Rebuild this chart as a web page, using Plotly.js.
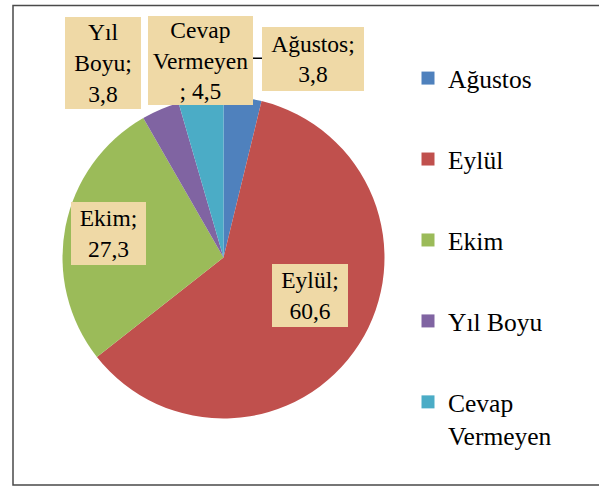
<!DOCTYPE html>
<html>
<head>
<meta charset="utf-8">
<script src="https://cdn.plot.ly/plotly-3.0.1.min.js"></script>
<style>html,body{margin:0;padding:0;background:#fff;}#chart{width:599px;height:486px;}</style>
</head>
<body>
<div id="chart"></div>
<script>
// ---- data ----
var categories = ["Ağustos", "Eylül", "Ekim", "Yıl Boyu", "Cevap Vermeyen"];
var values = [3.8, 60.6, 27.3, 3.8, 4.5];
var legendNames = ["Ağustos", "Eylül", "Ekim", "Yıl Boyu", "Cevap<br>Vermeyen"];
var labelPrefixes = ["Ağustos;<br>", "Eylül;<br>", "Ekim;<br>", "Yıl<br>Boyu;<br>", "Cevap<br>Vermeyen<br>; "];
var colors = ["#4F81BD", "#C0504D", "#9BBB59", "#8064A2", "#4BACC6"];

// ---- layout helpers (pixel -> paper) ----
var W = 599, H = 486;
function px(x) { return x / W; }
function py(y) { return 1 - y / H; }

var traces = [{
  type: "pie",
  labels: categories,
  values: values,
  sort: false,
  direction: "clockwise",
  rotation: 0,
  textinfo: "none",
  hoverinfo: "label+value",
  showlegend: false,
  marker: { colors: colors, line: { width: 0 } },
  domain: { x: [px(223.5 - 161), px(223.5 + 161)], y: [py(257.5 + 161), py(257.5 - 161)] }
}];

// legend entries (one per category)
categories.forEach(function (c, i) {
  traces.push({
    type: "scatter",
    mode: "markers",
    x: [null], y: [null],
    name: legendNames[i],
    legendgroup: c,
    hoverinfo: "skip",
    marker: { symbol: "square", size: 13, color: colors[i], line: { width: 0 } }
  });
});

// label boxes: centre (px), size (px)
var boxes = [
  { cx: 313, cy: 59, w: 102, h: 64 },
  { cx: 310, cy: 295.5, w: 76, h: 63 },
  { cx: 108.5, cy: 233.5, w: 75, h: 63 },
  { cx: 103, cy: 63, w: 76, h: 92 },
  { cx: 200.5, cy: 60.5, w: 105, h: 89 }
];

var annotations = [];
categories.forEach(function (c, i) {
  var b = boxes[i];
  var txt = labelPrefixes[i] + values[i].toFixed(1).replace(".", ",");
  var a = {
    xref: "paper", yref: "paper",
    text: txt,
    font: { family: "Liberation Serif", size: 23.5, color: "#000" },
    bgcolor: "#EFD9A6",
    borderpad: 0, borderwidth: 0,
    width: b.w, height: b.h,
    align: "center", valign: "middle",
    xanchor: "center", yanchor: "middle"
  };
  if (i === 0) {
    a.showarrow = true;
    a.arrowhead = 0;
    a.arrowwidth = 1.5;
    a.arrowcolor = "#000";
    a.x = px(240); a.y = py(58);
    a.ax = b.cx - 240; a.ay = b.cy - 58;
  } else {
    a.showarrow = false;
    a.x = px(b.cx); a.y = py(b.cy);
  }
  annotations.push(a);
});

var layout = {
  width: W, height: H,
  margin: { l: 0, r: 0, t: 0, b: 0 },
  paper_bgcolor: "#fff",
  plot_bgcolor: "#fff",
  xaxis: { visible: false },
  yaxis: { visible: false },
  showlegend: true,
  legend: {
    x: px(408), y: py(55), xanchor: "left", yanchor: "top",
    font: { family: "Liberation Serif", size: 25.5, color: "#000" },
    tracegroupgap: 44.8,
    valign: "top",
    bgcolor: "rgba(0,0,0,0)",
    itemclick: false, itemdoubleclick: false
  },
  annotations: annotations,
  shapes: [{
    type: "rect", xref: "paper", yref: "paper",
    x0: px(13), x1: px(610), y0: py(485), y1: py(5.5),
    line: { color: "#4a4a4a", width: 1.5 },
    fillcolor: "rgba(0,0,0,0)",
    layer: "above"
  }]
};

Plotly.newPlot("chart", traces, layout, { displayModeBar: false, staticPlot: true });
</script>
</body>
</html>
